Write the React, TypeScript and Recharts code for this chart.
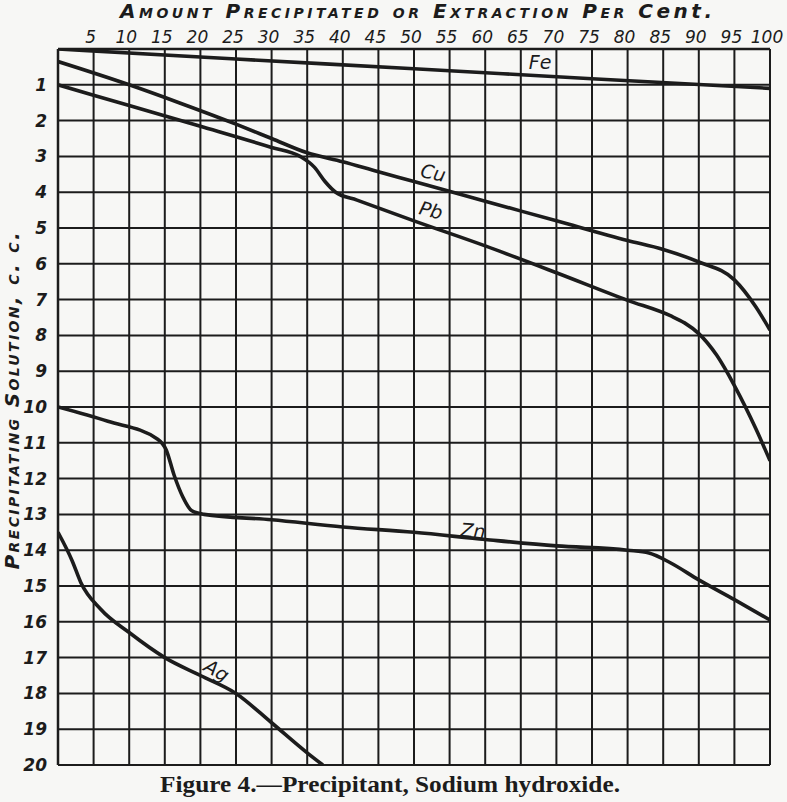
import { LineChart, Line, XAxis, YAxis, CartesianGrid, ReferenceDot } from 'recharts'

// percent precipitated (x) vs c.c. of precipitating solution (y)
const X_TICKS = [0, 5, 10, 15, 20, 25, 30, 35, 40, 45, 50, 55, 60, 65, 70, 75, 80, 85, 90, 95, 100]
const Y_TICKS = [0, 1, 2, 3, 4, 5, 6, 7, 8, 9, 10, 11, 12, 13, 14, 15, 16, 17, 18, 19, 20]

const FE: [number, number][] = [
  [0, 0], [25, 0.28], [50, 0.55], [75, 0.83], [100, 1.1],
]

const CU: [number, number][] = [
  [0, 0.35], [10, 1.0], [17, 1.5], [25, 2.1], [30, 2.5], [35, 2.9], [40, 3.15], [45, 3.43],
  [50, 3.7], [60, 4.25], [70, 4.8], [80, 5.35], [85, 5.6], [90, 5.95], [95, 6.45], [98, 7.2], [100, 7.85],
]

const PB: [number, number][] = [
  [0, 1.0], [10, 1.58], [20, 2.16], [30, 2.75], [34, 3.0], [36, 3.3], [37.5, 3.7], [39, 4.0],
  [42, 4.22], [50, 4.8], [60, 5.5], [70, 6.25], [80, 7.02], [86, 7.45], [88, 7.65], [90, 7.95],
  [92.5, 8.55], [95, 9.4], [98, 10.6], [100, 11.5],
]

const ZN: [number, number][] = [
  [0, 10], [7, 10.4], [14, 10.9], [15.2, 11.2], [16.3, 11.9], [17.5, 12.5], [18.8, 12.9], [20.5, 13.0],
  [30, 13.15], [40, 13.35], [50, 13.5], [60, 13.7], [70, 13.88], [80, 14.0], [83, 14.08], [86, 14.35],
  [90, 14.83], [95, 15.38], [100, 15.95],
]

const AG: [number, number][] = [
  [0, 13.5], [2, 14.3], [3.2, 14.9], [6, 15.65], [10, 16.3], [15, 17.0], [20, 17.5], [25, 18.0],
  [30, 18.82], [35, 19.66], [37.2, 20],
]

const SERIES = [
  { name: 'Fe', points: FE },
  { name: 'Cu', points: CU },
  { name: 'Pb', points: PB },
  { name: 'Zn', points: ZN },
  { name: 'Ag', points: AG },
]

// where the hand-written names sit, in chart units
const NAME_TAGS = [
  { text: 'Fe', x: 67.7, y: 0.36, angle: 0 },
  { text: 'Cu', x: 52.7, y: 3.45, angle: 12 },
  { text: 'Pb', x: 52.4, y: 4.5, angle: 14 },
  { text: 'Zn', x: 58.3, y: 13.45, angle: 4 },
  { text: 'Ag', x: 22.3, y: 17.35, angle: 30 },
]

const INK = '#1c1c1c'
const HAND = '"DejaVu Sans", sans-serif'

const toRows = (pts: [number, number][]) => pts.map(([x, y]) => ({ x, y }))

function NameTag({ viewBox, text, angle }: any) {
  const cx = (viewBox?.x ?? 0) + (viewBox?.width ?? 0) / 2
  const cy = (viewBox?.y ?? 0) + (viewBox?.height ?? 0) / 2
  return (
    <text
      x={cx}
      y={cy}
      textAnchor="middle"
      dominantBaseline="central"
      transform={`rotate(${angle}, ${cx}, ${cy})`}
      fontFamily={HAND}
      fontStyle="italic"
      fontSize={19}
      fill={INK}
    >
      {text}
    </text>
  )
}

export default function App() {
  return (
    <div style={{ position: 'absolute', left: 0, top: 0, width: 787, height: 802, background: '#f7f7f5' }}>
      <LineChart width={787} height={802} margin={{ top: 0, right: 17, bottom: 37, left: 0 }}>
        <CartesianGrid stroke={INK} strokeWidth={2} />
        <XAxis
          dataKey="x"
          type="number"
          orientation="top"
          domain={[0, 100]}
          ticks={X_TICKS}
          interval={0}
          height={49}
          tickSize={0}
          tickMargin={6}
          axisLine={{ stroke: INK, strokeWidth: 2.5 }}
          tickLine={false}
          tickFormatter={(v) => (v === 0 ? '' : String(v))}
          tick={{ fill: INK, fontFamily: HAND, fontStyle: 'italic', fontWeight: 500, fontSize: 17, dx: -3 }}
          allowDataOverflow
        />
        <YAxis
          type="number"
          domain={[0, 20]}
          reversed
          ticks={Y_TICKS}
          interval={0}
          width={58}
          tickSize={0}
          tickMargin={11}
          axisLine={{ stroke: INK, strokeWidth: 2.5 }}
          tickLine={false}
          tickFormatter={(v) => (v === 0 ? '' : String(v))}
          tick={{ fill: INK, fontFamily: HAND, fontStyle: 'italic', fontWeight: 'bold', fontSize: 17 }}
          allowDataOverflow
        />
        {SERIES.map((s) => (
          <Line
            key={s.name}
            data={toRows(s.points)}
            dataKey="y"
            name={s.name}
            type="monotone"
            stroke={INK}
            strokeWidth={3.6}
            dot={false}
            activeDot={false}
            isAnimationActive={false}
          />
        ))}
        {NAME_TAGS.map((t) => (
          <ReferenceDot
            key={t.text}
            x={t.x}
            y={t.y}
            r={0}
            fill="none"
            stroke="none"
            label={{ content: (p: any) => <NameTag {...p} text={t.text} angle={t.angle} /> }}
          />
        ))}
      </LineChart>
      <svg width={787} height={802} style={{ position: 'absolute', left: 0, top: 0, pointerEvents: 'none' }}>
        <text
          x={416}
          y={18}
          textAnchor="middle"
          textLength={592}
          lengthAdjust="spacing"
          fontFamily={HAND}
          fontStyle="italic"
          fontWeight={600}
          fontSize={20}
          fill={INK}
          style={{ fontVariant: 'small-caps' }}
        >
          Amount Precipitated or Extraction Per <tspan style={{ fontVariant: 'normal' }}>Cent.</tspan>
        </text>
        <text
          x={19}
          y={401}
          textAnchor="middle"
          textLength={337}
          lengthAdjust="spacing"
          transform="rotate(-90, 19, 401)"
          fontFamily={HAND}
          fontStyle="italic"
          fontWeight={600}
          fontSize={20}
          fill={INK}
          style={{ fontVariant: 'small-caps' }}
        >
          Precipitating Solution, c. c.
        </text>
        <text
          x={390}
          y={792}
          textAnchor="middle"
          textLength={460}
          lengthAdjust="spacingAndGlyphs"
          fontFamily='"Liberation Serif", serif'
          fontWeight="bold"
          fontSize={24}
          fill={INK}
        >
          Figure 4.—Precipitant, Sodium hydroxide.
        </text>
      </svg>
    </div>
  )
}
